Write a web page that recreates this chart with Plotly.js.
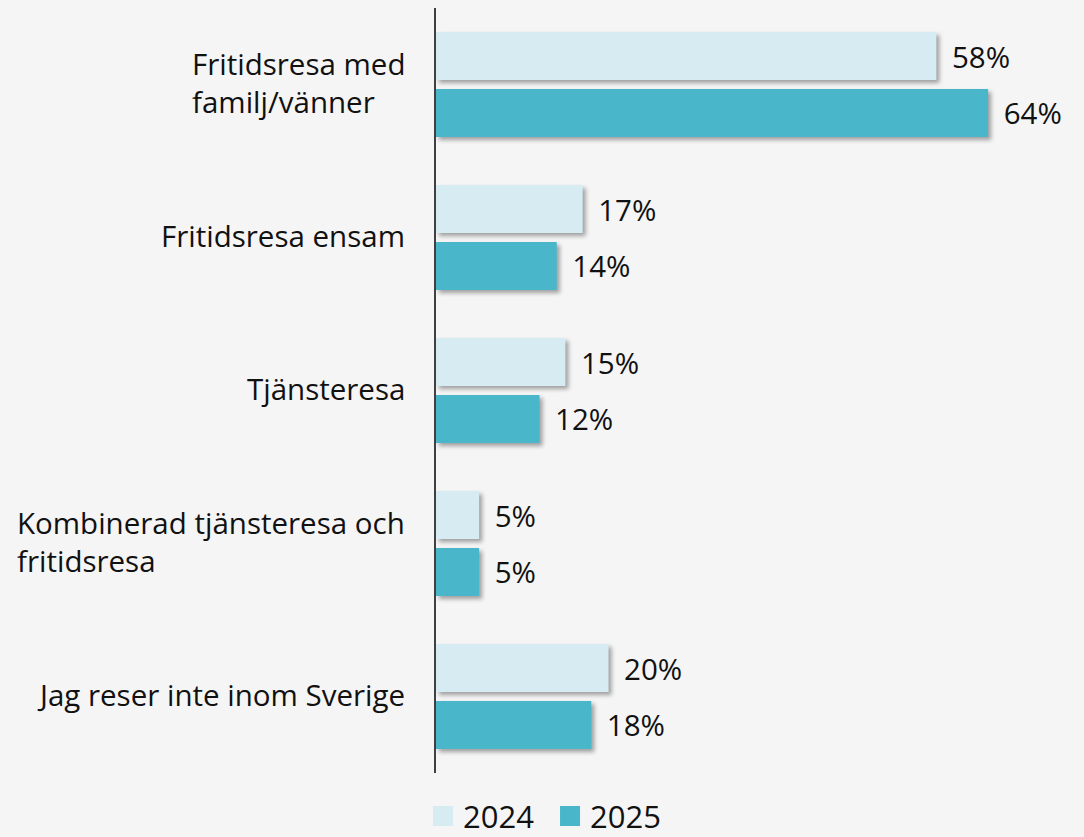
<!DOCTYPE html>
<html><head><meta charset="utf-8">
<script src="https://cdn.plot.ly/plotly-3.0.1.min.js"></script>
<style>
html,body{margin:0;padding:0;background:#f5f5f5;}
#chart{width:1084px;height:837px;}
.trace.bars .point path{filter:drop-shadow(3px 3px 2px rgba(0,0,0,0.35));}
</style></head>
<body><div id="chart"></div>
<script>
const categories = ["Fritidsresa med<br>familj/vänner","Fritidsresa ensam","Tjänsteresa","Kombinerad tjänsteresa och<br>fritidsresa","Jag reser inte inom Sverige"];
const values2024 = [58,17,15,5,20];
const values2025 = [64,14,12,5,18];
const seriesNames = ["2024","2025"];
const colors = ["#d6ecf2","#4ab6ca"];
const FONT = "Open Sans, sans-serif";
const TXT = "#111111";

function mk(vals, i){
  return {type:'bar', orientation:'h', name:seriesNames[i], y:categories, x:vals,
    marker:{color:colors[i]}, text:vals.map(v=>'\u00a0\u2009'+v+'%'), texttemplate:'%{text}',
    textposition:'outside', cliponaxis:false,
    textfont:{family:FONT,size:29.5,color:TXT}, hoverinfo:'skip'};
}
const data=[mk(values2024,0),mk(values2025,1)];
const annotations = categories.map(c=>({xref:'paper',yref:'y',x:0,y:c,xanchor:'right',yanchor:'middle',
  xshift:-29,yshift:2,align:'left',text:c,showarrow:false,font:{family:FONT,size:29.5,color:TXT}}));
const layout={width:1084,height:837,paper_bgcolor:'#f5f5f5',plot_bgcolor:'#f5f5f5',
  margin:{l:436,r:1,t:8,b:64},barmode:'group',bargap:0.255,bargroupgap:0.158,
  xaxis:{range:[0,75],visible:false,fixedrange:true},
  yaxis:{autorange:'reversed',showticklabels:false,ticks:'',showgrid:false,zeroline:false,
    showline:true,linecolor:'#404040',linewidth:2},
  showlegend:true,
  legend:{orientation:'h',xref:'container',yref:'container',x:0.5074,xanchor:'center',y:0.057,yanchor:'top',
    entrywidth:82,font:{family:FONT,size:31,color:TXT},itemclick:false},
  annotations:annotations,font:{family:FONT,color:TXT}};
Plotly.newPlot('chart',data,layout,{staticPlot:true}).then(()=>{
  document.querySelectorAll('.legend .legendpoints path').forEach(p=>{
    p.setAttribute('d','M10,10H-10V-10H10Z');
  });
});
</script></body></html>
